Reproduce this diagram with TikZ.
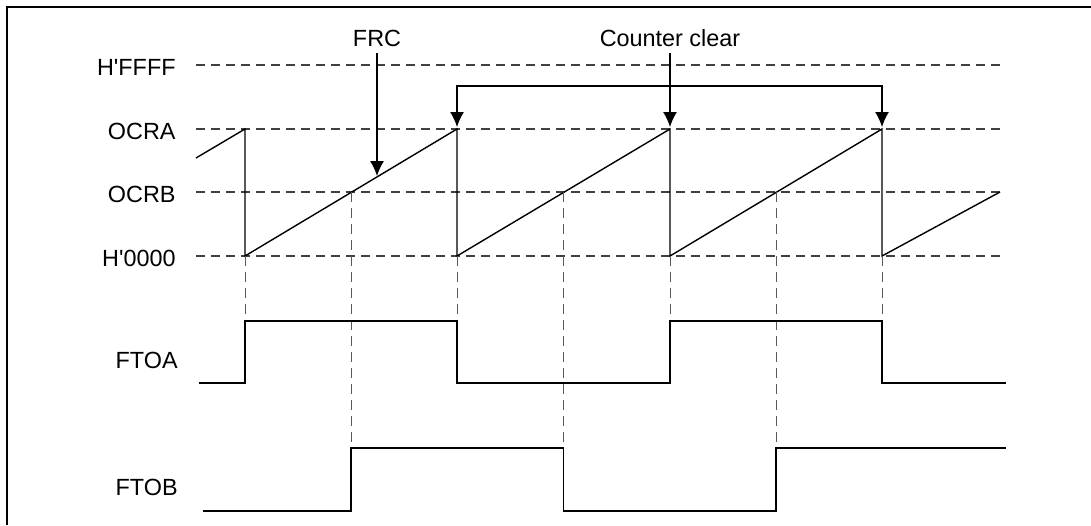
\documentclass[tikz,border=0pt]{standalone}
\usepackage{fontspec}
\setmainfont{Liberation Sans}
\usetikzlibrary{arrows.meta}

\begin{document}
\begin{tikzpicture}[
  x=0.5pt, y=-0.5pt,
  font=\fontsize{11.7}{14}\selectfont,
  >={Latex[length=7.5pt,width=7pt]},
  level/.style={anchor=east, inner sep=0pt},
  marker/.style={inner sep=3pt},
  grid/.style={draw=black!75, line width=.6pt, dash pattern=on 4.5pt off 3pt},
  guide/.style={draw=black!65, line width=.45pt, dash pattern=on 5pt off 3pt},
  wave/.style={draw=black, line width=.7pt},
  arrow/.style={->, line width=.65pt, draw=black}
]
\useasboundingbox (0,0) rectangle (1091,525);
\draw[line width=1.1pt] (7,525) -- (7,7) -- (1091,7);

% counter levels
\node[level] (ffff) at (176,67) {H\textquotesingle FFFF};
\node[level] (ocra) at (176,131) {OCRA};
\node[level] (ocrb) at (176,194) {OCRB};
\node[level] (zero) at (176,258) {H\textquotesingle 0000};
\foreach \y in {65,129,192,256}
  \draw[grid] (196,\y) -- (1000,\y);

% free-running counter
\draw[wave] (196,158) -- (245,129) -- (245,256) -- (457,129) -- (457,256)
  -- (670,129) -- (670,256) -- (882,129) -- (882,256) -- (1000,192);

% compare-match guides
\foreach \x in {245,457,670,882}
  \draw[guide] (\x,256) -- (\x,321);
\foreach \x in {351,563.5,776}
  \draw[guide] (\x,192) -- (\x,448);

% outputs
\node[level] (ftoa) at (178,360) {FTOA};
\node[level] (ftob) at (178,487) {FTOB};
\draw[wave] (199,383) -- (245,383) -- (245,321) -- (457,321) -- (457,383)
  -- (670,383) -- (670,321) -- (882,321) -- (882,383) -- (1006,383);
\draw[wave] (203,511) -- (351,511) -- (351,448) -- (563.5,448) -- (563.5,511)
  -- (776,511) -- (776,448) -- (1006,448);

% markers
\node[marker] (frc) at (377,38) {FRC};
\node[marker] (clr) at (670,38) {Counter clear};
\coordinate (frchit) at (377,176);
\coordinate (tipL) at (457,127);
\coordinate (tipM) at (670,127);
\coordinate (tipR) at (882,127);
\coordinate (brk) at (0,86);

\draw[arrow] (frc) -- (frchit);
\draw[arrow] (clr) -- (tipM);
\draw[<->, line width=.65pt] (tipL) -- (tipL |- brk) -- (tipR |- brk) -- (tipR);

\end{tikzpicture}
\end{document}
